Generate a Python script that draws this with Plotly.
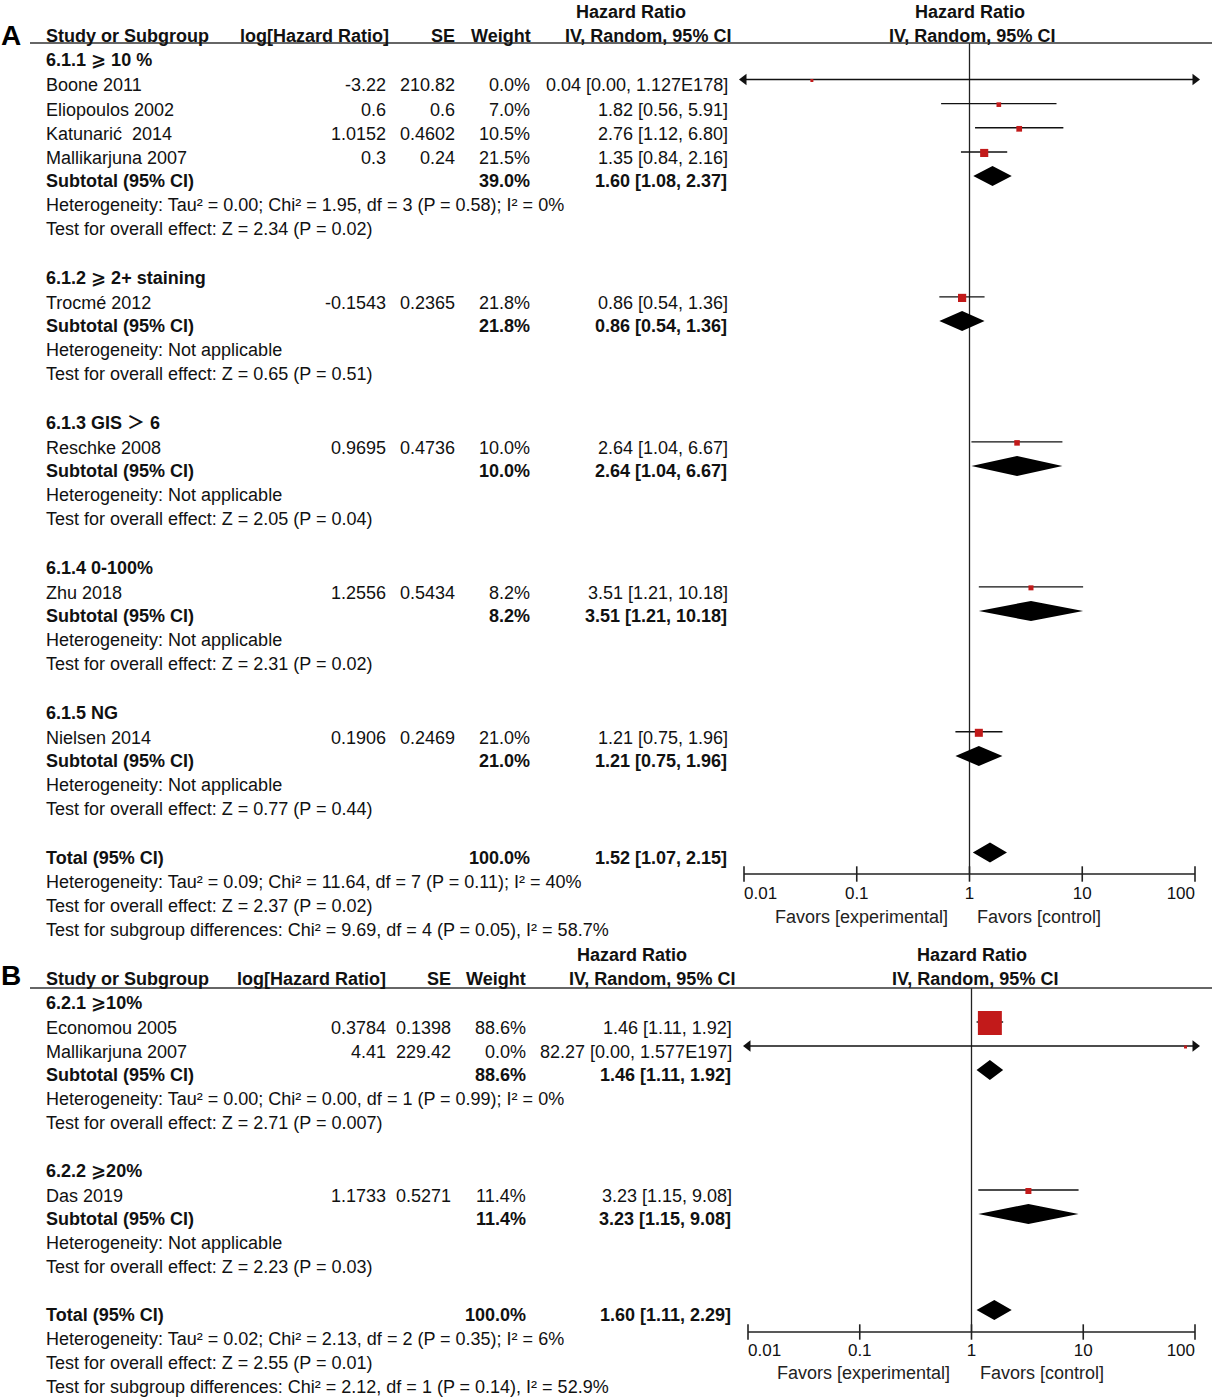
import math
import plotly.graph_objects as go

W, H = 1217, 1399
FONT = "Liberation Sans, Arial, DejaVu Sans, Noto Sans CJK SC, sans-serif"
RED = "#c21a1a"
INK = "#111111"

# ---------------- Panel A data ----------------
a_groups = ["6.1.1 ⩾ 10 %", "6.1.2 ⩾ 2+ staining", "6.1.3 GIS ＞ 6", "6.1.4 0-100%", "6.1.5 NG"]
a_study_group = [0, 0, 0, 0, 1, 2, 3, 4]
a_studies = ["Boone 2011", "Eliopoulos 2002", "Katunarić  2014", "Mallikarjuna 2007",
             "Trocmé 2012", "Reschke 2008", "Zhu 2018", "Nielsen 2014"]
a_loghr = [-3.22, 0.6, 1.0152, 0.3, -0.1543, 0.9695, 1.2556, 0.1906]
a_se = [210.82, 0.6, 0.4602, 0.24, 0.2365, 0.4736, 0.5434, 0.2469]
a_weight = [0.0, 7.0, 10.5, 21.5, 21.8, 10.0, 8.2, 21.0]
a_hr = [0.04, 1.82, 2.76, 1.35, 0.86, 2.64, 3.51, 1.21]
a_lo = [0.00, 0.56, 1.12, 0.84, 0.54, 1.04, 1.21, 0.75]
a_hi = [1.127e178, 5.91, 6.80, 2.16, 1.36, 6.67, 10.18, 1.96]
a_sub_weight = [39.0, 21.8, 10.0, 8.2, 21.0]
a_sub_hr = [1.60, 0.86, 2.64, 3.51, 1.21]
a_sub_lo = [1.08, 0.54, 1.04, 1.21, 0.75]
a_sub_hi = [2.37, 1.36, 6.67, 10.18, 1.96]
a_het = ["Heterogeneity: Tau² = 0.00; Chi² = 1.95, df = 3 (P = 0.58); I² = 0%",
         "Heterogeneity: Not applicable", "Heterogeneity: Not applicable",
         "Heterogeneity: Not applicable", "Heterogeneity: Not applicable"]
a_test = ["Test for overall effect: Z = 2.34 (P = 0.02)",
          "Test for overall effect: Z = 0.65 (P = 0.51)",
          "Test for overall effect: Z = 2.05 (P = 0.04)",
          "Test for overall effect: Z = 2.31 (P = 0.02)",
          "Test for overall effect: Z = 0.77 (P = 0.44)"]
a_total = [100.0, 1.52, 1.07, 2.15]
a_total_lines = ["Heterogeneity: Tau² = 0.09; Chi² = 11.64, df = 7 (P = 0.11); I² = 40%",
                 "Test for overall effect: Z = 2.37 (P = 0.02)",
                 "Test for subgroup differences: Chi² = 9.69, df = 4 (P = 0.05), I² = 58.7%"]

# ---------------- Panel B data ----------------
b_groups = ["6.2.1 ⩾10%", "6.2.2 ⩾20%"]
b_study_group = [0, 0, 1]
b_studies = ["Economou 2005", "Mallikarjuna 2007", "Das 2019"]
b_loghr = [0.3784, 4.41, 1.1733]
b_se = [0.1398, 229.42, 0.5271]
b_weight = [88.6, 0.0, 11.4]
b_hr = [1.46, 82.27, 3.23]
b_lo = [1.11, 0.00, 1.15]
b_hi = [1.92, 1.577e197, 9.08]
b_sub_weight = [88.6, 11.4]
b_sub_hr = [1.46, 3.23]
b_sub_lo = [1.11, 1.15]
b_sub_hi = [1.92, 9.08]
b_het = ["Heterogeneity: Tau² = 0.00; Chi² = 0.00, df = 1 (P = 0.99); I² = 0%",
         "Heterogeneity: Not applicable"]
b_test = ["Test for overall effect: Z = 2.71 (P = 0.007)",
          "Test for overall effect: Z = 2.23 (P = 0.03)"]
b_total = [100.0, 1.60, 1.11, 2.29]
b_total_lines = ["Heterogeneity: Tau² = 0.02; Chi² = 2.13, df = 2 (P = 0.35); I² = 6%",
                 "Test for overall effect: Z = 2.55 (P = 0.01)",
                 "Test for subgroup differences: Chi² = 2.12, df = 1 (P = 0.14), I² = 52.9%"]

tick_vals = [0.01, 0.1, 1, 10, 100]
tick_text = ["0.01", "0.1", "1", "10", "100"]
xmin, xmax = 0.01, 100


def px(x):
    return x / W


def fnum(v):
    if v >= 1e6:
        m, e = f"{v:.3E}".split("E")
        return f"{m}E{int(e)}"
    return f"{v:.2f}"


def fci(hr, lo, hi):
    return f"{fnum(hr)} [{fnum(lo)}, {fnum(hi)}]"


fig = go.Figure()
annotations = []
shapes = []


def ann(x, y, text, xanchor="left", bold=False, size=18, color=INK):
    annotations.append(dict(
        x=px(x), y=y, xref="paper", yref="y", text=(f"<b>{text}</b>" if bold else text),
        showarrow=False, xanchor=xanchor, yanchor="middle",
        font=dict(family=FONT, size=size, color=color), borderpad=0))


def draw_panel(xa, letter, groups, sgroup, studies, loghr, se, wt, hr, lo, hi,
               sub_wt, sub_hr, sub_lo, sub_hi, het, test, tot, tot_lines, L):
    Y = lambda r: L["y0"] + r * L["dy"]
    c = L["cols"]
    r = 2
    study_rows = [0] * len(studies)
    group_rows, sub_rows = [], []
    for g in range(len(groups)):
        group_rows.append(r)
        r += 1
        for i, sg in enumerate(sgroup):
            if sg == g:
                study_rows[i] = r
                r += 1
        sub_rows.append(r)
        r += 4
    total_row = r

    # letter and headers
    ann(0, L["letter_y"], letter, bold=True, size=28, color="#000")
    ann(c["study"], Y(1), "Study or Subgroup", bold=True)
    ann(c["loghr_h"], Y(1), "log[Hazard Ratio]", "right", bold=True)
    ann(c["se_h"], Y(1), "SE", "right", bold=True)
    ann(c["wt_h"], Y(1), "Weight", "right", bold=True)
    ann(c["hr_h1"], Y(0), "Hazard Ratio", "center", bold=True)
    ann(c["hr_h2"], Y(1), "IV, Random, 95% CI", "center", bold=True)
    ann(c["f_h1"], Y(0), "Hazard Ratio", "center", bold=True)
    ann(c["f_h2"], Y(1), "IV, Random, 95% CI", "center", bold=True)
    shapes.append(dict(type="line", xref="paper", yref="y", x0=px(30), x1=px(1212),
                       y0=L["top"], y1=L["top"], line=dict(color="#333", width=1.5)))

    for g, name in enumerate(groups):
        ann(c["study"], Y(group_rows[g]), name, bold=True)
        sr = sub_rows[g]
        ann(c["study"], Y(sr), "Subtotal (95% CI)", bold=True)
        ann(c["wt"], Y(sr), f"{sub_wt[g]:.1f}%", "right", bold=True)
        ann(c["ci"] - 1, Y(sr), fci(sub_hr[g], sub_lo[g], sub_hi[g]), "right", bold=True)
        ann(c["study"], Y(sr + 1), het[g])
        ann(c["study"], Y(sr + 2), test[g])
    for i, s in enumerate(studies):
        yy = Y(study_rows[i]) + 1
        ann(c["study"], yy, s)
        ann(c["loghr"], yy, str(loghr[i]), "right")
        ann(c["se"], yy, str(se[i]), "right")
        ann(c["wt"], yy, f"{wt[i]:.1f}%", "right")
        ann(c["ci"], yy, fci(hr[i], lo[i], hi[i]), "right")
    ann(c["study"], Y(total_row), "Total (95% CI)", bold=True)
    ann(c["wt"], Y(total_row), f"{tot[0]:.1f}%", "right", bold=True)
    ann(c["ci"] - 1, Y(total_row), fci(tot[1], tot[2], tot[3]), "right", bold=True)
    for k, t in enumerate(tot_lines):
        ann(c["study"], Y(total_row + 1 + k), t)

    off = L["mark_off"]
    # null line
    fig.add_trace(go.Scatter(x=[1, 1], y=[L["top"], L["axis_y"]], mode="lines", xaxis=xa,
                             line=dict(color="#222", width=1.3), hoverinfo="skip", cliponaxis=False))
    # CI lines
    xs, ys = [], []
    la_x, la_y, ra_x, ra_y = [], [], [], []
    for i in range(len(studies)):
        yy = Y(study_rows[i]) + off
        x0 = max(lo[i], xmin)
        x1 = min(hi[i], xmax)
        xs += [x0, x1, None]
        ys += [yy, yy, None]
        if lo[i] < xmin:
            la_x.append(xmin); la_y.append(yy)
        if hi[i] > xmax:
            ra_x.append(xmax); ra_y.append(yy)
    fig.add_trace(go.Scatter(x=xs, y=ys, mode="lines", xaxis=xa, line=dict(color="#111", width=1.4),
                             hoverinfo="skip", cliponaxis=False))
    fig.add_trace(go.Scatter(x=la_x, y=la_y, mode="markers", xaxis=xa, cliponaxis=False,
                             marker=dict(symbol="triangle-left", size=10, color="#111", opacity=1),
                             hoverinfo="skip"))
    fig.add_trace(go.Scatter(x=ra_x, y=ra_y, mode="markers", xaxis=xa, cliponaxis=False,
                             marker=dict(symbol="triangle-right", size=10, color="#111", opacity=1),
                             hoverinfo="skip"))
    # squares
    sizes = [max(3.0, L["sq_a"] + L["sq_k"] * math.sqrt(w)) for w in wt]
    fig.add_trace(go.Scatter(x=hr, y=[Y(r) + off + 1 for r in study_rows], mode="markers", xaxis=xa,
                             cliponaxis=False, hoverinfo="skip",
                             marker=dict(symbol="square", size=sizes, color=RED, opacity=1,
                                         line=dict(width=0))))
    # diamonds
    dh = L["dia_h"]
    dxs, dys = [], []
    for g in range(len(groups)):
        yy = Y(sub_rows[g]) + off
        dxs += [sub_lo[g], sub_hr[g], sub_hi[g], sub_hr[g], sub_lo[g], None]
        dys += [yy, yy - dh, yy, yy + dh, yy, None]
    yy = Y(total_row) + off
    dxs += [tot[2], tot[1], tot[3], tot[1], tot[2]]
    dys += [yy, yy - dh, yy, yy + dh, yy]
    fig.add_trace(go.Scatter(x=dxs, y=dys, mode="lines", fill="toself", fillcolor="#000",
                             line=dict(width=0, color="#000"), xaxis=xa, hoverinfo="skip",
                             cliponaxis=False))
    # axis line + ticks
    ay = L["axis_y"]
    fig.add_trace(go.Scatter(x=[xmin, xmax], y=[ay, ay], mode="lines", xaxis=xa,
                             line=dict(color="#222", width=1.5), hoverinfo="skip", cliponaxis=False))
    fig.add_trace(go.Scatter(x=tick_vals, y=[ay] * len(tick_vals), mode="markers", xaxis=xa,
                             cliponaxis=False, hoverinfo="skip",
                             marker=dict(symbol="line-ns", size=11, opacity=1,
                                         line=dict(color="#222", width=1.6))))
    pos = ["middle right"] + ["middle center"] * (len(tick_vals) - 2) + ["middle left"]
    fig.add_trace(go.Scatter(x=tick_vals, y=[L["tick_y"]] * len(tick_vals), mode="text", xaxis=xa,
                             text=tick_text, textposition=pos, cliponaxis=False, hoverinfo="skip",
                             textfont=dict(family=FONT, size=17, color=INK)))
    ann(L["fav_l"], L["fav_y"], "Favors [experimental]", "right", color="#222")
    ann(L["fav_r"], L["fav_y"], "Favors [control]", "left", color="#222")


LA = dict(y0=12, dy=24.16, top=43, axis_y=874, tick_y=895, fav_y=917, fav_l=949, fav_r=976,
          letter_y=35, mark_off=-5, sq_a=0.0, sq_k=1.75, dia_h=10,
          cols=dict(study=45, loghr=387, se=456, wt=531, ci=729, loghr_h=390, se_h=456, wt_h=532,
                    hr_h1=631, hr_h2=648, f_h1=970, f_h2=972))
LB = dict(y0=955, dy=24.0, top=988, axis_y=1332, tick_y=1352, fav_y=1373, fav_l=951, fav_r=979,
          letter_y=975, mark_off=-5, sq_a=-4.07, sq_k=2.98, dia_h=10,
          cols=dict(study=45, loghr=387, se=452, wt=527, ci=733, loghr_h=387, se_h=452, wt_h=527,
                    hr_h1=632, hr_h2=652, f_h1=972, f_h2=975))

draw_panel("x", "A", a_groups, a_study_group, a_studies, a_loghr, a_se, a_weight, a_hr, a_lo, a_hi,
           a_sub_weight, a_sub_hr, a_sub_lo, a_sub_hi, a_het, a_test, a_total, a_total_lines, LA)
draw_panel("x2", "B", b_groups, b_study_group, b_studies, b_loghr, b_se, b_weight, b_hr, b_lo, b_hi,
           b_sub_weight, b_sub_hr, b_sub_lo, b_sub_hi, b_het, b_test, b_total, b_total_lines, LB)

fig.update_layout(
    width=W, height=H, margin=dict(l=0, r=0, t=0, b=0),
    paper_bgcolor="white", plot_bgcolor="rgba(0,0,0,0)", showlegend=False,
    xaxis=dict(type="log", range=[-2, 2], domain=[px(744), px(1195)], anchor="y", visible=False),
    xaxis2=dict(type="log", range=[-2, 2], domain=[px(748), px(1195)], anchor="y", visible=False),
    yaxis=dict(range=[H, 0], domain=[0, 1], visible=False),
    annotations=annotations, shapes=shapes,
)
fig.write_html("out.html", config={"displayModeBar": False, "staticPlot": True},
               post_script="document.body.style.margin='0';document.body.style.overflow='hidden';")
